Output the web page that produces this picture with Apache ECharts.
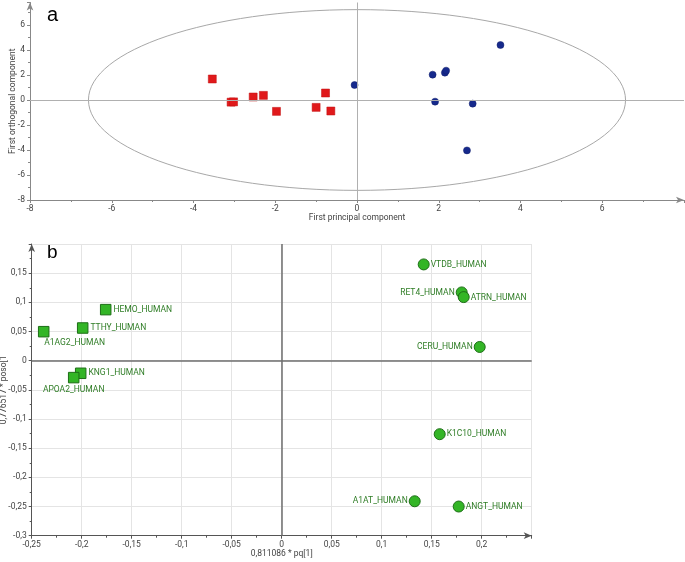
<!DOCTYPE html>
<html><head><meta charset="utf-8">
<script src="https://cdn.jsdelivr.net/npm/echarts@6/dist/echarts.min.js"></script>
<style>html,body{margin:0;padding:0;background:#fff}#c{width:685px;height:562px}</style>
</head><body><div id="c"></div>
<script>
// ---- Panel a: scores ----
const redX  = [-3.54, -3.08, -3.02, -2.54, -2.29, -1.97, -1.00, -0.77, -0.64];
const redY  = [ 1.68, -0.17, -0.15,  0.24,  0.37, -0.91, -0.59,  0.56, -0.88];
const blueX = [-0.06, 1.85, 2.15, 2.18, 3.51, 1.91, 2.83, 2.69];
const blueY = [ 1.20, 2.03, 2.19, 2.35, 4.40, -0.13, -0.29, -4.03];
const ellipseCenter = [0, 0];
const ellipseRadius = [6.57, 7.23];
const scoreXTitle = 'First principal component';
const scoreYTitle = 'First orthogonal component';

// ---- Panel b: loadings ----
const squareNames = ['HEMO_HUMAN', 'TTHY_HUMAN', 'A1AG2_HUMAN', 'KNG1_HUMAN', 'APOA2_HUMAN'];
const squareX = [-0.176, -0.199, -0.238, -0.201, -0.208];
const squareY = [ 0.0875, 0.056, 0.0497, -0.0216, -0.029];
const circleNames = ['VTDB_HUMAN', 'RET4_HUMAN', 'ATRN_HUMAN', 'CERU_HUMAN', 'K1C10_HUMAN', 'A1AT_HUMAN', 'ANGT_HUMAN'];
const circleX = [0.142, 0.180, 0.182, 0.198, 0.158, 0.133, 0.177];
const circleY = [0.165, 0.117, 0.109, 0.0235, -0.126, -0.241, -0.250];
const loadXTitle = '0,811086 * pq[1]';
const loadYTitle = '0,776517 * poso[1';

const FONT = 'Roboto';
const labelPlacement = {
  'HEMO_HUMAN': {position: 'right'},
  'TTHY_HUMAN': {position: 'right'},
  'A1AG2_HUMAN': {position: 'bottom', offset: [31, -1]},
  'KNG1_HUMAN': {position: 'right'},
  'APOA2_HUMAN': {position: 'bottom', offset: [0, 0]},
  'VTDB_HUMAN': {position: 'right'},
  'RET4_HUMAN': {position: 'left'},
  'ATRN_HUMAN': {position: 'right', offset: [0, 1]},
  'CERU_HUMAN': {position: 'left'},
  'K1C10_HUMAN': {position: 'right'},
  'A1AT_HUMAN': {position: 'left'},
  'ANGT_HUMAN': {position: 'right'}
};
function pts(xs, ys) { return xs.map((x, i) => [x, ys[i]]); }
function named(names, xs, ys) {
  return names.map((n, i) => {
    const p = labelPlacement[n];
    return {name: n, value: [xs[i], ys[i]],
      label: {position: p.position, offset: p.offset || [0, 0]}};
  });
}
function comma(v) {
  const r = Math.round(v * 1000) / 1000;
  return String(r).replace('.', ',');
}
function evenOnly(v) {
  return Math.abs(v % 2) < 1e-9 ? String(v) : '';
}
const tickFont = {fontSize: 8.5, color: '#444', fontFamily: FONT};
const nameFont = {fontSize: 8.5, color: '#444', fontFamily: FONT};

const chart = echarts.init(document.getElementById('c'), null, {renderer: 'canvas'});
chart.setOption({
  animation: false,
  backgroundColor: '#fff',
  textStyle: {fontFamily: FONT},
  grid: [
    {left: 30, top: 2.5, width: 654, height: 197.5, containLabel: false, outerBoundsMode: 'none'},
    {left: 31.7, top: 244, width: 500, height: 291.7, containLabel: false, outerBoundsMode: 'none'}
  ],
  xAxis: [
    {gridIndex: 0, type: 'value', min: -8, max: 8, interval: 2,
     name: scoreXTitle, nameLocation: 'middle', nameGap: 13, nameMoveOverlap: false,
     nameTextStyle: nameFont,
     axisLine: {onZero: false, lineStyle: {color: '#888', width: 1}, symbol: ['none', 'arrow'], symbolSize: [5, 8]},
     axisTick: {length: 3, lineStyle: {color: '#888'}},
     minorTick: {show: true, splitNumber: 2, length: 2, lineStyle: {color: '#888'}},
     axisLabel: Object.assign({margin: 4, showMaxLabel: false}, tickFont),
     splitLine: {show: false}},
    {gridIndex: 1, type: 'value', min: -0.25, max: 0.25, interval: 0.05,
     name: loadXTitle, nameLocation: 'middle', nameGap: 14, nameMoveOverlap: false,
     nameTextStyle: nameFont,
     axisLine: {onZero: false, lineStyle: {color: '#555', width: 1}, symbol: ['none', 'arrow'], symbolSize: [5, 8]},
     axisTick: {length: 3, lineStyle: {color: '#555'}},
     minorTick: {show: true, splitNumber: 2, length: 2, lineStyle: {color: '#555'}},
     axisLabel: Object.assign({margin: 5, showMaxLabel: false, formatter: comma}, tickFont),
     splitLine: {show: true, lineStyle: {color: '#e4e4e4', width: 1}}}
  ],
  yAxis: [
    {gridIndex: 0, type: 'value', min: -8, max: 7.8, interval: 2,
     name: scoreYTitle, nameLocation: 'middle', nameGap: 13, nameRotate: 90, nameMoveOverlap: false,
     nameTextStyle: nameFont,
     axisLine: {onZero: false, lineStyle: {color: '#888', width: 1}, symbol: ['none', 'arrow'], symbolSize: [5, 8]},
     axisTick: {length: 3, lineStyle: {color: '#888'}},
     minorTick: {show: true, splitNumber: 2, length: 2, lineStyle: {color: '#888'}},
     axisLabel: Object.assign({margin: 5, showMaxLabel: false, formatter: evenOnly}, tickFont),
     splitLine: {show: false}},
    {gridIndex: 1, type: 'value', min: -0.3, max: 0.2, interval: 0.05,
     name: loadYTitle, nameLocation: 'middle', nameGap: 23, nameRotate: 90, nameMoveOverlap: false,
     nameTextStyle: nameFont,
     axisLine: {onZero: false, lineStyle: {color: '#555', width: 1}, symbol: ['none', 'arrow'], symbolSize: [5, 8]},
     axisTick: {length: 3, lineStyle: {color: '#555'}},
     minorTick: {show: true, splitNumber: 2, length: 2, lineStyle: {color: '#555'}},
     axisLabel: Object.assign({margin: 5, showMaxLabel: false, formatter: comma}, tickFont),
     splitLine: {show: true, lineStyle: {color: '#e4e4e4', width: 1}}}
  ],
  graphic: [
    {type: 'text', left: 47, top: 5, style: {text: 'a', fontSize: 20, fontFamily: 'Liberation Sans', fill: '#000'}},
    {type: 'text', left: 47, top: 243, style: {text: 'b', fontSize: 19, fontFamily: 'Liberation Sans', fill: '#000'}}
  ],
  series: [
    {type: 'custom', xAxisIndex: 0, yAxisIndex: 0, silent: true, z: 1,
     data: [[ellipseCenter[0], ellipseCenter[1], ellipseRadius[0], ellipseRadius[1]]],
     renderItem: function (params, api) {
       const c = api.coord([api.value(0), api.value(1)]);
       const s = api.size([api.value(2), api.value(3)]);
       return {type: 'ellipse', shape: {cx: c[0], cy: c[1], rx: s[0], ry: s[1]},
               style: {fill: 'none', stroke: '#a8a8a8', lineWidth: 1}};
     },
     markLine: {silent: true, symbol: 'none', label: {show: false},
       lineStyle: {color: '#b0b0b0', width: 1, type: 'solid'},
       data: [{xAxis: 0}, {yAxis: 0}]}},
    {type: 'scatter', xAxisIndex: 0, yAxisIndex: 0, symbol: 'rect', symbolSize: 8, z: 3,
     itemStyle: {color: '#e0191b', borderColor: '#c01010', borderWidth: 0.5, opacity: 1},
     data: pts(redX, redY)},
    {type: 'scatter', xAxisIndex: 0, yAxisIndex: 0, symbol: 'circle', symbolSize: 7, z: 3,
     itemStyle: {color: '#16298c', borderColor: '#101e6a', borderWidth: 0.5, opacity: 1},
     data: pts(blueX, blueY)},
    {type: 'scatter', xAxisIndex: 1, yAxisIndex: 1, symbol: 'rect', symbolSize: 10.5, z: 3,
     itemStyle: {color: '#33b526', borderColor: '#1d6e16', borderWidth: 1, opacity: 1},
     label: {show: true, formatter: '{b}', fontSize: 8.5, color: '#2f7d26', fontFamily: FONT, distance: 2},
     data: named(squareNames, squareX, squareY),
     markLine: {silent: true, symbol: 'none', label: {show: false},
       lineStyle: {color: '#6e6e6e', width: 1.5, type: 'solid'},
       data: [{xAxis: 0}, {yAxis: 0}]}},
    {type: 'scatter', xAxisIndex: 1, yAxisIndex: 1, symbol: 'circle', symbolSize: 11, z: 3,
     itemStyle: {color: '#33b526', borderColor: '#1d6e16', borderWidth: 1, opacity: 1},
     label: {show: true, formatter: '{b}', fontSize: 8.5, color: '#2f7d26', fontFamily: FONT, distance: 1},
     data: named(circleNames, circleX, circleY)}
  ]
});
</script>
</body></html>
